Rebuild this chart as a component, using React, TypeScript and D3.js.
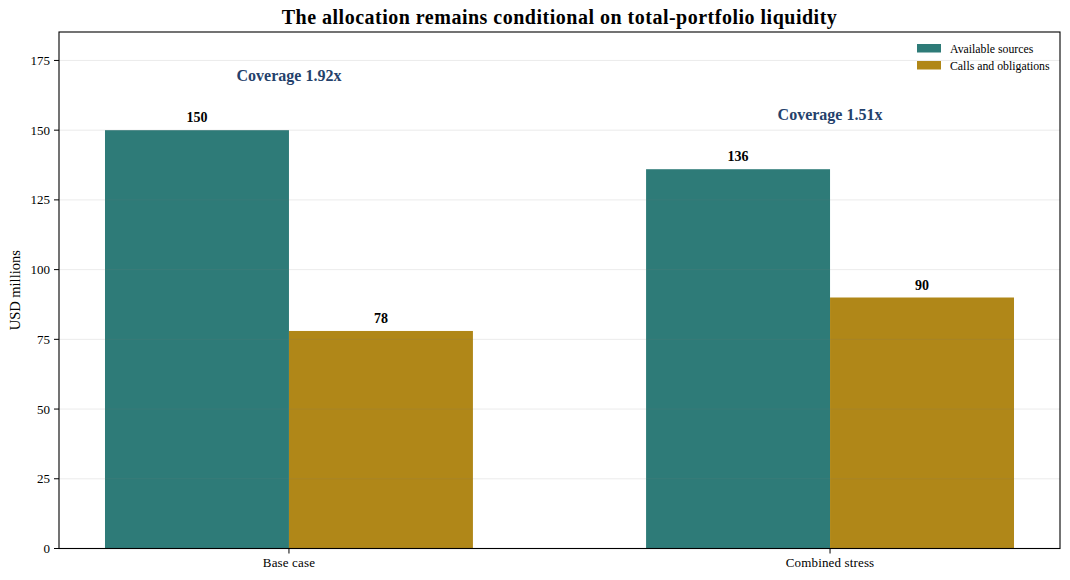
import React from 'react';
import * as d3 from 'd3';

const categories = ['Base case', 'Combined stress'];
const seriesNames = ['Available sources', 'Calls and obligations'];
const availableSources = [150, 136];
const callsObligations = [78, 90];
const coverageLabels = ['Coverage 1.92x', 'Coverage 1.51x'];
const yTicks = [0, 25, 50, 75, 100, 125, 150, 175];
const colors = ['#2e7b78', '#b08718'];

const W = 1070, H = 580;
const M = { left: 59, right: 1060, top: 32, bottom: 548.5 };
const FONT = '"Liberation Serif", "Times New Roman", serif';

export default function App() {
  const x = d3.scaleLinear().domain([-0.425, 1.425]).range([M.left, M.right]);
  const y = d3.scaleLinear().domain([0, 185.2]).range([M.bottom, M.top]);
  const barW = 0.34;
  const series = [availableSources, callsObligations];

  return (
    <svg width={W} height={H} style={{ position: 'absolute', left: 0, top: 0, background: '#fff' }} fontFamily={FONT}>
      <text x={(M.left + M.right) / 2} y={23.5} textAnchor="middle" fontSize={20} letterSpacing={0.5} fontWeight="bold" fill="#000">
        The allocation remains conditional on total-portfolio liquidity
      </text>
      {series.map((vals, s) =>
        vals.map((v, i) => {
          const x0 = x(i + (s === 0 ? -barW : 0));
          const x1 = x(i + (s === 0 ? 0 : barW));
          return (
            <rect key={`${s}-${i}`} x={x0} y={y(v)} width={x1 - x0} height={y(0) - y(v)} fill={colors[s]} />
          );
        })
      )}
      {yTicks.map(t => (
        <line key={t} x1={M.left} x2={M.right} y1={y(t)} y2={y(t)} stroke="#777" strokeOpacity={0.15} strokeWidth={1} />
      ))}
      {series.map((vals, s) =>
        vals.map((v, i) => {
          const cx = x(i + (s === 0 ? -barW / 2 : barW / 2));
          return (
            <text key={`l${s}-${i}`} x={cx} y={y(v) - 8} textAnchor="middle" fontSize={14} fontWeight="bold" fill="#000">
              {v}
            </text>
          );
        })
      )}
      {categories.map((c, i) => {
        const top = Math.max(availableSources[i], callsObligations[i]) + 20;
        return (
          <text key={c} x={x(i)} y={y(top) + 6.5} textAnchor="middle" fontSize={16} fontWeight="bold" fill="#24416b">
            {coverageLabels[i]}
          </text>
        );
      })}
      <rect x={M.left} y={M.top} width={M.right - M.left} height={M.bottom - M.top} fill="none" stroke="#000" strokeWidth={1.1} />
      {yTicks.map(t => (
        <g key={`t${t}`}>
          <line x1={M.left - 5} x2={M.left} y1={y(t)} y2={y(t)} stroke="#000" />
          <text x={M.left - 9} y={y(t) + 4.5} textAnchor="end" fontSize={13} fill="#000">{t}</text>
        </g>
      ))}
      {categories.map((c, i) => (
        <g key={`x${c}`}>
          <line x1={x(i)} x2={x(i)} y1={M.bottom} y2={M.bottom + 5} stroke="#000" />
          <text x={x(i)} y={M.bottom + 18.5} textAnchor="middle" fontSize={13} letterSpacing={0.15} fill="#000">{c}</text>
        </g>
      ))}
      <text transform={`translate(20,${(M.top + M.bottom) / 2}) rotate(-90)`} textAnchor="middle" fontSize={14.5} fill="#000">
        USD millions
      </text>
      {seriesNames.map((n, s) => (
        <g key={n} transform={`translate(917,${44 + s * 17})`}>
          <rect x={0} y={0} width={24} height={8.5} fill={colors[s]} />
          <text x={33} y={8.5} fontSize={11.8} fill="#000">{n}</text>
        </g>
      ))}
    </svg>
  );
}
